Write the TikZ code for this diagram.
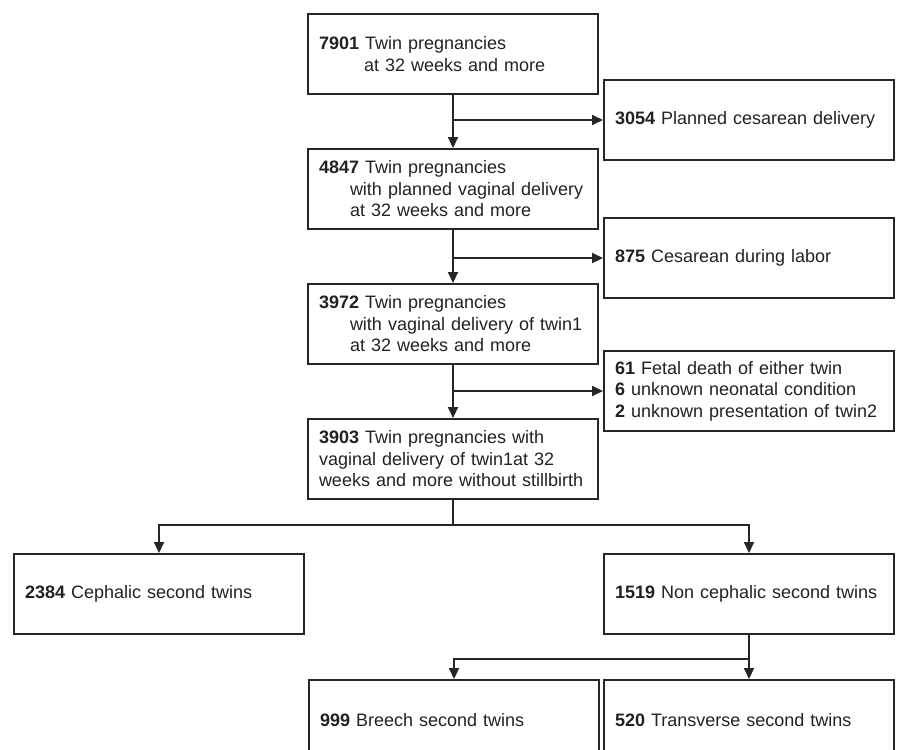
\documentclass[tikz,border=0pt]{standalone}
\usepackage{fontspec}
\setmainfont{Liberation Sans}
\usetikzlibrary{arrows.meta}
\definecolor{lc}{HTML}{262626}
\definecolor{tc}{HTML}{222222}
\tikzset{
  box/.style={draw=lc, line width=2pt, anchor=north west, minimum width=290pt,
    minimum height=80pt, inner xsep=11pt, inner ysep=0pt, text width=268pt,
    align=left, text=tc, font=\fontsize{18}{21.5}\selectfont},
  conn/.style={draw=lc, line width=2pt},
  arr/.style={conn, -{Triangle[length=11pt,width=10pt]}}
}
\begin{document}
\begin{tikzpicture}[x=1pt,y=-1pt]
\useasboundingbox (0,0) rectangle (900,750);
\fill[white] (0,0) rectangle (900,750);
\clip (0,0) rectangle (900,750);
\node[box] (n7901) at (307,13) {\textbf{7901} Twin pregnancies\\\hspace*{45pt}at 32 weeks and more};
\node[box] (n3054) at (603,79) {\textbf{3054} Planned cesarean delivery};
\node[box] (n4847) at (307,148) {\textbf{4847} Twin pregnancies\\\hspace*{31pt}with planned vaginal delivery\\\hspace*{31pt}at 32 weeks and more};
\node[box] (n875) at (603,217) {\textbf{875} Cesarean during labor};
\node[box] (n3972) at (307,283) {\textbf{3972} Twin pregnancies\\\hspace*{31pt}with vaginal delivery of twin1\\\hspace*{31pt}at 32 weeks and more};
\node[box] (n61) at (603,350) {\textbf{61} Fetal death of either twin\\\textbf{6} unknown neonatal condition\\\textbf{2} unknown presentation of twin2};
\node[box] (n3903) at (307,418) {\textbf{3903} Twin pregnancies with\\vaginal delivery of twin1at 32\\weeks and more without stillbirth};
\node[box] (n2384) at (13,553) {\textbf{2384} Cephalic second twins};
\node[box] (n1519) at (603,553) {\textbf{1519} Non cephalic second twins};
\node[box] (n999) at (308,679) {\textbf{999} Breech second twins};
\node[box] (n520) at (603,679) {\textbf{520} Transverse second twins};

\draw[arr] (n7901.south) -- (n4847.north);
\draw[arr] (n3054.west -| n7901.south) -- (n3054.west);
\draw[arr] (n4847.south) -- (n3972.north);
\draw[arr] (n875.west -| n4847.south) -- (n875.west);
\draw[arr] (n3972.south) -- (n3903.north);
\draw[arr] (n61.west -| n3972.south) -- (n61.west);
\draw[conn] (n3903.south) -- ++(0,25) coordinate (j1);
\draw[arr] (j1) -| (n2384.north);
\draw[arr] (j1) -| (n1519.north);
\draw[conn] (n1519.south) -- ++(0,24) coordinate (j2);
\draw[arr] (j2) -| (n999.north);
\draw[arr] (j2) -- (n520.north);
\end{tikzpicture}
\end{document}
